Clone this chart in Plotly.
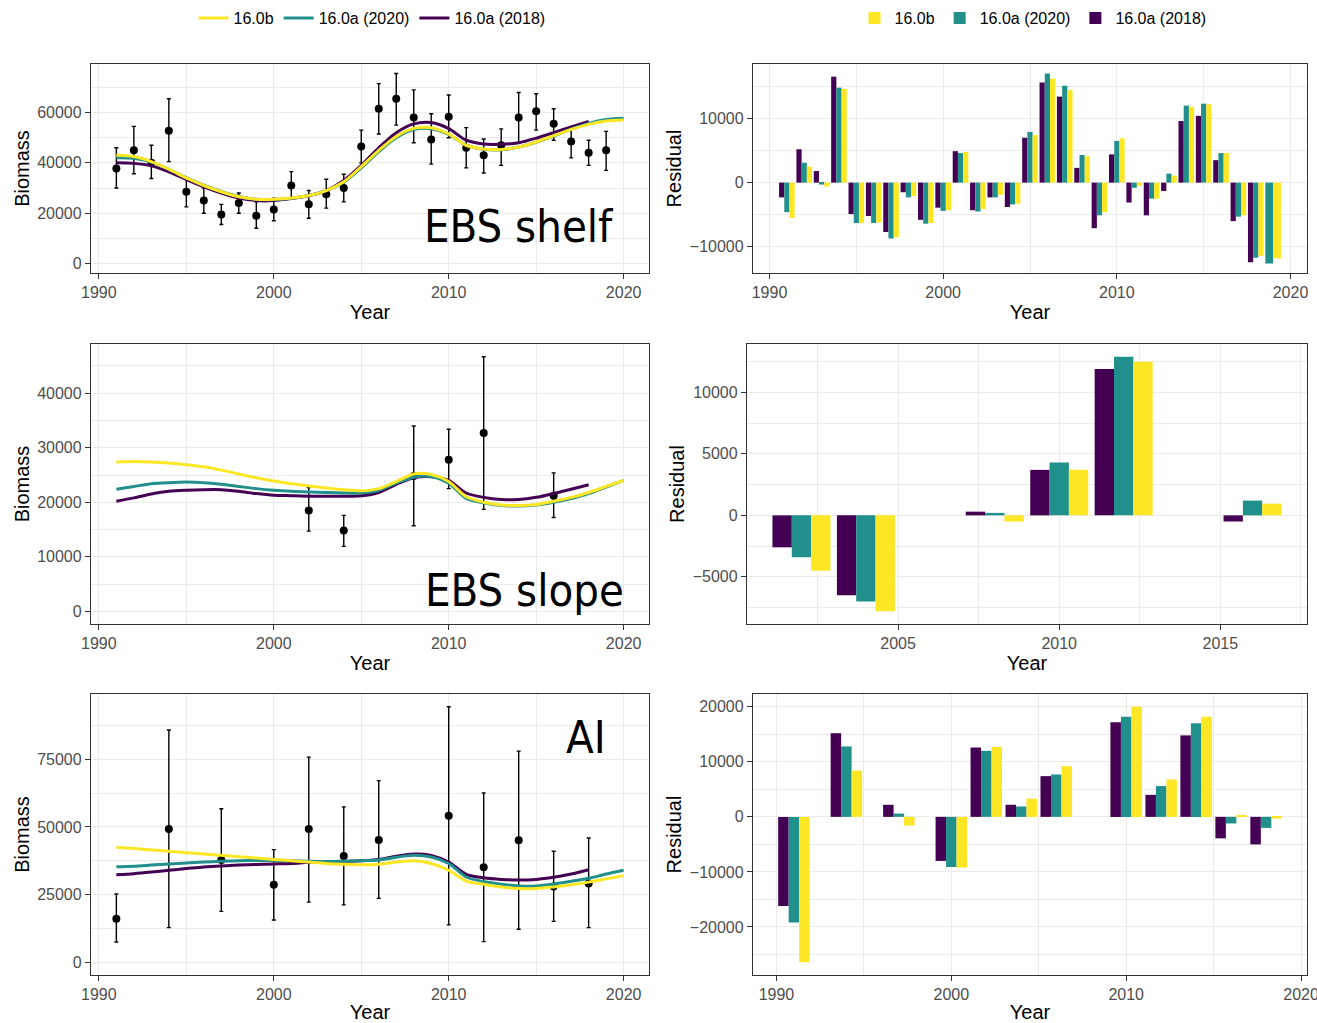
import plotly.graph_objects as go

W, H = 1317, 1023
PURPLE = "#440154"
TEAL = "#21908C"
YELLOW = "#FDE725"
SERIES_NAMES = ["16.0a (2018)", "16.0a (2020)", "16.0b"]
SERIES_COLORS = [PURPLE, TEAL, YELLOW]

# ---------------- EBS shelf ----------------
shelf_obs_years = list(range(1991, 2020))
shelf_obs = [37800, 45000, 40000, 52800, 28500, 25000, 19500, 24000, 19000, 21500,
             31000, 23500, 27500, 30000, 46500, 61500, 65500, 58000, 49300, 58300,
             46000, 43000, 47000, 58000, 60500, 55500, 48500, 44000, 45000]
shelf_lo = [30000, 35700, 33800, 40500, 22500, 20000, 15500, 20000, 14000, 17000,
            26000, 18000, 22000, 24500, 40000, 51500, 55000, 48000, 39500, 50000,
            38000, 36000, 39000, 48000, 53000, 49000, 42000, 39000, 37000]
shelf_hi = [46000, 54500, 47000, 65500, 34000, 30000, 23500, 28000, 24500, 26000,
            36500, 29000, 33500, 35500, 53000, 71500, 75500, 69000, 59500, 67000,
            54000, 49500, 53500, 68000, 67500, 61500, 54000, 49000, 52500]

fit_years_2020 = list(range(1991, 2021))
fit_years_2018 = list(range(1991, 2019))
shelf_fit_b = [43000, 42500, 40500, 37500, 34000, 31000, 28500, 26500, 25500, 25500,
               26000, 27000, 29000, 32500, 38500, 45000, 50500, 53700, 54000, 51500,
               47000, 45500, 45300, 46300, 48300, 50800, 53300, 55300, 56600, 57000]
shelf_fit_a20 = [42000, 41800, 40300, 37400, 34100, 31100, 28600, 26600, 25500, 25400,
                 25900, 27000, 29000, 32300, 38000, 44500, 50000, 53200, 53600, 51300,
                 47000, 45400, 45200, 46300, 48200, 50700, 53400, 55700, 57200, 57700]
shelf_fit_a18 = [40000, 39800, 38800, 36400, 33400, 30500, 28000, 26000, 25000, 25000,
                 25800, 27000, 29000, 33000, 39000, 46000, 52000, 55500, 56000, 53600,
                 49000, 47500, 47400, 48000, 49800, 52000, 54300, 56500]

shelf_res_years = list(range(1991, 2020))
shelf_res_a18 = [-2300, 5200, 1800, 16500, -4900, -5200, -7700, -1500, -5800, -3900,
                 4900, -4300, -2300, -3800, 7000, 15600, 13400, 2300, -7100, 4400,
                 -3100, -5100, -1300, 9600, 10400, 3500, -6000, -12400, None]
shelf_res_a20 = [-4600, 3100, -300, 14800, -6300, -6300, -8700, -2300, -6400, -4400,
                 4600, -4500, -2300, -3400, 7900, 17000, 15100, 4300, -5100, 6500,
                 -800, -2500, 1400, 12000, 12300, 4600, -5300, -11700, -12600]
shelf_res_b = [-5500, 2500, -600, 14600, -6300, -6200, -8500, -2100, -6300, -4300,
               4800, -4100, -1900, -3300, 7400, 16200, 14400, 4100, -4600, 6900,
               -500, -2500, 1100, 11800, 12200, 4600, -5100, -11400, -11800]

# ---------------- EBS slope ----------------
slope_obs_years = [2002, 2004, 2008, 2010, 2012, 2016]
slope_obs = [18500, 14800, 24800, 27800, 32700, 21200]
slope_lo = [14700, 11900, 15700, 22500, 18700, 17200]
slope_hi = [22700, 17600, 34000, 33400, 46700, 25400]

slope_fit_b = [27400, 27500, 27400, 27200, 26900, 26500, 25900, 25200, 24500, 23900,
               23400, 23000, 22600, 22300, 22100, 22500, 23800, 25200, 25100, 23800,
               21000, 20000, 19500, 19400, 19600, 20200, 20900, 21800, 22900, 24000]
slope_fit_a20 = [22400, 22900, 23400, 23600, 23700, 23600, 23300, 22900, 22500, 22200,
                 22000, 21900, 21800, 21700, 21700, 22200, 23500, 24600, 24700, 23500,
                 20700, 19900, 19400, 19300, 19500, 20000, 20700, 21600, 22800, 24000]
slope_fit_a18 = [20200, 20800, 21500, 22000, 22200, 22300, 22300, 22000, 21600, 21300,
                 21200, 21100, 21100, 21100, 21200, 21800, 23300, 24500, 24700, 24000,
                 21700, 20900, 20500, 20500, 20900, 21600, 22400, 23200]

slope_res_years = [2002, 2004, 2008, 2010, 2012, 2016]
slope_res_a18 = [-2600, -6500, 300, 3700, 11900, -500]
slope_res_a20 = [-3400, -7000, 200, 4300, 12900, 1200]
slope_res_b = [-4500, -7800, -500, 3700, 12500, 950]

# ---------------- AI ----------------
ai_obs_years = [1991, 1994, 1997, 2000, 2002, 2004, 2006, 2010, 2012, 2014, 2016, 2018]
ai_obs = [16100, 49200, 37800, 28600, 49200, 39300, 45200, 54100, 35100, 45100, 28000, 29100]
ai_lo = [7500, 12800, 18800, 15600, 22200, 21200, 23600, 13800, 7600, 12200, 15100, 12800]
ai_hi = [25200, 85800, 56700, 41600, 75800, 57400, 67100, 94400, 62600, 78000, 41000, 45900]

ai_fit_b = [42500, 42000, 41500, 41000, 40500, 40000, 39500, 39000, 38500, 38000,
            37500, 37000, 36500, 36200, 36000, 36200, 37000, 37500, 36500, 34000,
            30000, 28800, 27800, 27200, 27200, 27800, 28600, 29600, 30800, 32000]
ai_fit_a20 = [35300, 35500, 35900, 36300, 36700, 37000, 37300, 37500, 37600, 37600,
              37500, 37300, 37200, 37300, 37500, 37800, 38800, 39500, 38900, 36500,
              31500, 29800, 28800, 28200, 28200, 28900, 29900, 31000, 32600, 34000]
ai_fit_a18 = [32300, 32700, 33300, 34000, 34600, 35200, 35600, 35900, 36100, 36300,
              36500, 36900, 37100, 37300, 37500, 38000, 39200, 40000, 39500, 37000,
              32500, 31200, 30600, 30400, 30600, 31400, 32600, 34200]

ai_res_years = [1991, 1994, 1997, 2000, 2002, 2004, 2006, 2010, 2012, 2014, 2016, 2018]
ai_res_a18 = [-16200, 15200, 2200, -8000, 12600, 2200, 7400, 17200, 4000, 14800, -3900, -5000]
ai_res_a20 = [-19200, 12800, 600, -9100, 12000, 1900, 7700, 18200, 5600, 17000, -1200, -2000]
ai_res_b = [-26400, 8400, -1600, -9200, 12700, 3300, 9200, 20000, 6800, 18200, 300, -300]

panel_labels = ["EBS shelf", "EBS slope", "AI"]

# ---------------- layout helpers ----------------
FONT = "Liberation Sans, Arial, sans-serif"
LABEL_FONT = "Liberation Sans Narrow, DejaVu Sans Condensed, Roboto, sans-serif"
GRID = "#EBEBEB"
BORDER = "#333333"


def px_dom_x(a, b):
    return [a / W, b / W]


def px_dom_y(top, bottom):
    return [1 - bottom / H, 1 - top / H]


def axis(domain, rng, tick0, dtick, minor_dtick, anchor, title, standoff):
    return dict(
        domain=domain, range=rng, anchor=anchor,
        tickmode="linear", tick0=tick0, dtick=dtick, tickformat="d",
        showline=True, mirror=True, linecolor=BORDER, linewidth=1.3,
        ticks="outside", ticklen=5, tickwidth=1.1, tickcolor=BORDER,
        tickfont=dict(family=FONT, size=16, color="#4D4D4D"),
        ticklabeloverflow="allow",
        showgrid=True, gridcolor=GRID, gridwidth=1.2, zeroline=False,
        minor=dict(tick0=tick0, dtick=minor_dtick, showgrid=True,
                   gridcolor=GRID, gridwidth=0.6, ticks=""),
        title=dict(text=title, font=dict(family=FONT, size=20, color="black"),
                   standoff=standoff),
        automargin=False, fixedrange=True,
    )


def dodge(years, series_list, frac=0.9):
    res = min(b - a for a, b in zip(years[:-1], years[1:]))
    total = frac * res
    widths = [[total / 3] * len(years) for _ in series_list]
    offsets = [[0.0] * len(years) for _ in series_list]
    for i in range(len(years)):
        present = [k for k, s in enumerate(series_list) if s[i] is not None]
        n = len(present)
        for j, k in enumerate(present):
            widths[k][i] = total / n
            offsets[k][i] = -total / 2 + j * total / n
    return widths, offsets


fig = go.Figure()

left_panels = [
    (shelf_obs_years, shelf_obs, shelf_lo, shelf_hi,
     [shelf_fit_a18, shelf_fit_a20, shelf_fit_b]),
    (slope_obs_years, slope_obs, slope_lo, slope_hi,
     [slope_fit_a18, slope_fit_a20, slope_fit_b]),
    (ai_obs_years, ai_obs, ai_lo, ai_hi,
     [ai_fit_a18, ai_fit_a20, ai_fit_b]),
]
right_panels = [
    (shelf_res_years, [shelf_res_a18, shelf_res_a20, shelf_res_b]),
    (slope_res_years, [slope_res_a18, slope_res_a20, slope_res_b]),
    (ai_res_years, [ai_res_a18, ai_res_a20, ai_res_b]),
]

for r, (oy, ov, lo, hi, fits) in enumerate(left_panels):
    ax = 2 * r + 1
    xa = "x" if ax == 1 else f"x{ax}"
    ya = "y" if ax == 1 else f"y{ax}"
    fig.add_trace(go.Scatter(
        x=oy, y=ov, mode="markers", xaxis=xa, yaxis=ya, showlegend=False,
        marker=dict(color="black", size=8),
        error_y=dict(type="data", symmetric=False,
                     array=[h - v for h, v in zip(hi, ov)],
                     arrayminus=[v - l for v, l in zip(ov, lo)],
                     color="black", thickness=1.4, width=2),
    ))
    for k, (name, col, vals) in enumerate(zip(SERIES_NAMES, SERIES_COLORS, fits)):
        yrs = fit_years_2018 if len(vals) == len(fit_years_2018) else fit_years_2020
        fig.add_trace(go.Scatter(
            x=yrs, y=vals, mode="lines", name=name, xaxis=xa, yaxis=ya,
            line=dict(color=col, width=3, shape="spline", smoothing=0.8),
            showlegend=(r == 0), legend="legend",
        ))

for r, (yrs, series) in enumerate(right_panels):
    ax = 2 * r + 2
    xa, ya = f"x{ax}", f"y{ax}"
    widths, offsets = dodge(yrs, series)
    for k, (name, col, vals) in enumerate(zip(SERIES_NAMES, SERIES_COLORS, series)):
        fig.add_trace(go.Bar(
            x=yrs, y=vals, width=widths[k], offset=offsets[k], name=name,
            marker=dict(color=col, line=dict(width=0)), xaxis=xa, yaxis=ya,
            showlegend=(r == 0), legend="legend2",
        ))

# panel pixel boxes (left, right, top, bottom)
boxes = {
    1: (91, 649, 64, 273),
    2: (753, 1307, 64, 273),
    3: (91, 649, 344, 624),
    4: (747, 1307, 344, 624),
    5: (91, 649, 694, 975),
    6: (753, 1307, 694, 975),
}
xranges = {
    1: [1989.55, 2021.45], 2: [1989.05, 2020.95],
    3: [1989.55, 2021.45], 4: [2000.31, 2017.69],
    5: [1989.55, 2021.45], 6: [1988.66, 2020.34],
}
yranges = {
    1: [-3780, 79300], 2: [-14080, 18480],
    3: [-2335, 49035], 4: [-8835, 13935],
    5: [-4720, 99120], 6: [-28720, 22320],
}
xticks = {1: (1990, 10, 5), 2: (1990, 10, 5), 3: (1990, 10, 5),
          4: (2005, 5, 2.5), 5: (1990, 10, 5), 6: (1990, 10, 5)}
yticks = {1: (0, 20000, 10000), 2: (0, 10000, 5000), 3: (0, 10000, 5000),
          4: (0, 5000, 2500), 5: (0, 25000, 12500), 6: (0, 10000, 5000)}

layout = dict(
    width=W, height=H, margin=dict(l=0, r=0, t=0, b=0),
    paper_bgcolor="white", plot_bgcolor="white",
    barmode="overlay", font=dict(family=FONT),
    legend=dict(orientation="h", x=372 / W, xanchor="center", y=1 - 18 / H,
                yanchor="middle", traceorder="reversed",
                font=dict(family=FONT, size=16, color="black"),
                bgcolor="rgba(0,0,0,0)", itemwidth=30),
    legend2=dict(orientation="h", x=1033 / W, xanchor="center", y=1 - 18 / H,
                 yanchor="middle", traceorder="reversed",
                 font=dict(family=FONT, size=16, color="black"),
                 bgcolor="rgba(0,0,0,0)", itemwidth=30),
)
for ax in range(1, 7):
    l, rgt, t, b = boxes[ax]
    xkey = "xaxis" if ax == 1 else f"xaxis{ax}"
    ykey = "yaxis" if ax == 1 else f"yaxis{ax}"
    xanc = "y" if ax == 1 else f"y{ax}"
    yanc = "x" if ax == 1 else f"x{ax}"
    layout[xkey] = axis(px_dom_x(l, rgt), xranges[ax], *xticks[ax], xanc, "Year", 4)
    ytitle = "Biomass" if ax % 2 == 1 else "Residual"
    layout[ykey] = axis(px_dom_y(t, b), yranges[ax], *yticks[ax], yanc, ytitle, 2)

label_pos = [(616, 226), (626, 590), (608, 737)]
annotations = []
for text, (xp, yp) in zip(panel_labels, label_pos):
    annotations.append(dict(
        text=text, x=xp / W, y=1 - yp / H, xref="paper", yref="paper",
        xanchor="right", yanchor="middle", showarrow=False,
        font=dict(family=LABEL_FONT, size=45, color="black"),
    ))
layout["annotations"] = annotations

fig.update_layout(**layout)
fig.write_html(
    "out.html",
    config={"displayModeBar": False},
    post_script="document.body.style.margin='0';document.body.style.overflow='hidden';",
)
